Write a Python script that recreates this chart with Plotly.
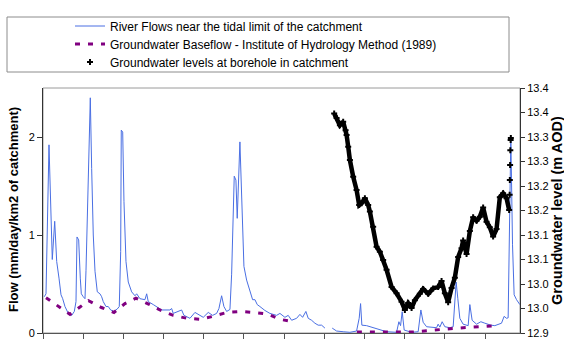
import plotly.graph_objects as go

# ---- River flow (mm/day/km2), x in tick-interval units (12 intervals on axis) ----
flow_x = [0.032, 0.075, 0.149, 0.231, 0.291, 0.341, 0.398, 0.448, 0.490, 0.547,
          0.629, 0.714, 0.779, 0.821, 0.846, 0.888, 0.928, 0.953, 1.002, 1.045,
          1.070, 1.102, 1.144, 1.177, 1.211, 1.251, 1.294, 1.351, 1.418, 1.460,
          1.500, 1.567, 1.624, 1.684, 1.766, 1.848, 1.898, 1.933, 1.948, 1.983,
          2.015, 2.065, 2.122, 2.206, 2.289, 2.331, 2.413, 2.537, 2.580, 2.619,
          2.744, 2.868, 2.953, 3.159, 3.201, 3.241, 3.450, 3.507, 3.657, 3.781,
          3.905, 3.988, 4.112, 4.221, 4.321, 4.378, 4.445, 4.502, 4.570, 4.652,
          4.694, 4.759, 4.801, 4.833, 4.900, 4.950, 5.000, 5.067, 5.132, 5.216,
          5.274, 5.331, 5.398, 5.522, 5.647, 5.813, 5.896, 6.020, 6.102, 6.187,
          6.311, 6.393, 6.460, 6.542, 6.600, 6.684, 6.766, 6.848, 6.933, 7.015,
          7.100, 7.197, 7.306, 7.470, 7.637, 7.803, 7.868, 7.903, 7.935, 8.052,
          8.216, 8.383, 8.550, 8.799, 8.856, 8.898, 8.938, 8.988, 9.172, 9.336,
          9.403, 9.460, 9.545, 9.794, 9.833, 9.876, 9.933, 10.000, 10.124, 10.207,
          10.249, 10.281, 10.323, 10.373, 10.455, 10.580, 10.622, 10.679, 10.789, 10.896,
          10.995, 11.144, 11.244, 11.410, 11.475, 11.535, 11.575, 11.617, 11.642, 11.684,
          11.724, 11.784, 11.848, 11.866]
flow_y = [0.37, 0.40, 1.92, 0.75, 1.14, 0.73, 0.56, 0.39, 0.35, 0.27,
          0.20, 0.18, 0.22, 0.32, 0.98, 0.95, 0.56, 0.40, 0.37, 0.35,
          0.64, 1.17, 1.85, 2.40, 1.68, 1.00, 0.63, 0.42, 0.40, 0.37,
          0.32, 0.27, 0.27, 0.235, 0.22, 0.245, 0.27, 0.83, 2.07, 2.05,
          1.34, 0.73, 0.52, 0.42, 0.38, 0.40, 0.35, 0.34, 0.40, 0.32,
          0.29, 0.26, 0.235, 0.235, 0.25, 0.20, 0.235, 0.18, 0.15, 0.21,
          0.18, 0.16, 0.21, 0.18, 0.20, 0.25, 0.38, 0.27, 0.22, 0.24,
          0.60, 1.60, 1.56, 1.17, 1.95, 1.22, 0.68, 0.54, 0.44, 0.34,
          0.34, 0.29, 0.27, 0.23, 0.20, 0.18, 0.20, 0.16, 0.18, 0.13,
          0.15, 0.19, 0.16, 0.22, 0.15, 0.13, 0.10, 0.08, 0.08, 0.05,
          None, 0.05, 0.02, 0.013, 0.007, 0.02, 0.15, 0.30, 0.08, 0.075,
          0.054, 0.03, 0.013, 0.007, 0.115, 0.075, 0.217, 0.03, 0.007, 0.013,
          0.235, 0.11, 0.064, 0.054, 0.09, 0.06, 0.115, 0.064, 0.054, 0.064,
          0.32, 0.52, 0.35, 0.15, 0.09, 0.075, 0.29, 0.13, 0.09, 0.115,
          0.10, 0.08, 0.075, 0.10, 0.17, 0.15, 0.155, 1.34, 2.00, 0.90,
          0.39, 0.34, 0.30, 0.29]

# ---- Groundwater baseflow (IH method) ----
base_x = [0.075, 0.381, 0.672, 0.903, 1.132, 1.455, 1.766, 2.040, 2.313, 2.600,
          2.910, 3.241, 3.582, 3.905, 4.236, 4.577, 4.925, 5.249, 5.580, 5.896,
          6.219, 7.000, 7.811, 8.177, 8.507, 8.838, 9.204, 9.545, 9.876, 10.206,
          10.547, 10.896, 11.201]
base_y = [0.36, 0.27, 0.19, 0.26, 0.33, 0.26, 0.21, 0.30, 0.355, 0.30,
          0.235, 0.18, 0.15, 0.14, 0.17, 0.21, 0.22, 0.21, 0.195, 0.14,
          0.115, None, 0.01, 0.01, 0.01, 0.01, 0.01, 0.023, 0.038, 0.046,
          0.056, 0.063, 0.072]

# ---- Groundwater level at borehole (m AOD) ----
gw_x = [7.246, 7.306, 7.388, 7.470, 7.530, 7.555, 7.595, 7.637, 7.719, 7.803,
        7.868, 7.928, 8.010, 8.092, 8.134, 8.216, 8.301, 8.383, 8.465, 8.550,
        8.674, 8.799, 8.923, 9.005, 9.087, 9.172, 9.254, 9.378, 9.460, 9.585,
        9.709, 9.833, 9.918, 10.000, 10.082, 10.167, 10.249, 10.331, 10.415, 10.455,
        10.540, 10.622, 10.704, 10.789, 10.871, 10.953, 11.037, 11.119, 11.201, 11.286,
        11.368, 11.450, 11.535, 11.600, 11.612, 11.617, 11.624, 11.629, 11.637, 11.642]
gw_level = [13.348, 13.339, 13.324, 13.331, 13.314, 13.304, 13.280, 13.253, 13.219, 13.192,
            13.161, 13.165, 13.175, 13.161, 13.148, 13.117, 13.076, 13.066, 13.049, 13.029,
            12.994, 12.981, 12.964, 12.947, 12.961, 12.951, 12.967, 12.980, 12.990, 12.980,
            12.991, 12.994, 13.006, 12.981, 12.963, 12.992, 13.013, 13.055, 13.073, 13.089,
            13.061, 13.108, 13.136, 13.129, 13.137, 13.156, 13.127, 13.116, 13.097, 13.112,
            13.177, 13.185, 13.175, 13.151, 13.182, 13.212, 13.243, 13.273, 13.294, 13.298]
GW_SOLID = 54  # points after this are the sparse, rapidly rising readings

# ---- Axis ticks ----
flow_ticks = [0, 1, 2]
level_ticks = [12.90, 12.95, 13.00, 13.05, 13.10, 13.15, 13.20, 13.25, 13.30, 13.35, 13.40]
level_ticktext = ["12.9", "13.0", "13.0", "13.1", "13.1", "13.2", "13.2", "13.3", "13.3", "13.4", "13.4"]
x_ticks = list(range(0, 12))

assert len(flow_x) == len(flow_y)
assert len(base_x) == len(base_y)
assert len(gw_x) == len(gw_level)

FONT = "Liberation Sans, Arial, sans-serif"
BLUE = "#4A6FE3"
PURPLE = "#800080"

fig = go.Figure()
fig.add_trace(go.Scatter(
    x=flow_x, y=flow_y, mode="lines", name="River Flows near the tidal limit of the catchment",
    line=dict(color=BLUE, width=1), connectgaps=False, yaxis="y", legend="legend"))
fig.add_trace(go.Scatter(
    x=base_x, y=base_y, mode="lines", name="Groundwater Baseflow - Institute of Hydrology Method (1989)",
    line=dict(color=PURPLE, width=3, dash="5px,8px"), connectgaps=False, yaxis="y",
    legend="legend2"))
fig.add_trace(go.Scatter(
    x=gw_x[:GW_SOLID], y=gw_level[:GW_SOLID], mode="lines", showlegend=False,
    line=dict(color="black", width=4.5), yaxis="y2", hoverinfo="skip"))
fig.add_trace(go.Scatter(
    x=gw_x, y=gw_level, mode="markers", name="Groundwater levels at borehole in catchment",
    marker=dict(color="black", size=5, symbol="cross"), yaxis="y2", legend="legend3"))

L, R, T, B = 43, 44, 88, 6
PW, PH = 564 - L - R, 339 - T - B


def px2paper_x(px):
    return (px - L) / PW


def py2paper_y(py):
    return (339 - B - py) / PH


def legend_row(py):
    return dict(
        x=px2paper_x(70), y=py2paper_y(py), xanchor="left", yanchor="middle",
        bgcolor="rgba(0,0,0,0)", borderwidth=0,
        font=dict(family=FONT, size=12, color="black"), itemwidth=30,
    )


fig.update_layout(
    width=564, height=339,
    margin=dict(l=L, r=R, t=T, b=B, pad=0),
    paper_bgcolor="white", plot_bgcolor="white",
    font=dict(family=FONT, size=11, color="black"),
    showlegend=True,
    legend=legend_row(26),
    legend2=legend_row(44),
    legend3=legend_row(62),
    xaxis=dict(
        range=[0, 11.87], tickvals=x_ticks, showticklabels=False,
        ticks="outside", ticklen=5, tickcolor="#555", tickwidth=1, automargin=False,
        showline=True, linecolor="#555", linewidth=1, showgrid=False, zeroline=False,
    ),
    yaxis=dict(
        range=[0, 2.5], tickvals=flow_ticks, ticks="outside", ticklen=5,
        tickcolor="#333", showline=True, linecolor="#333", linewidth=1, automargin=False,
        showgrid=False, zeroline=False, tickfont=dict(size=11),
    ),
    yaxis2=dict(
        range=[12.9, 13.4], tickvals=level_ticks, ticktext=level_ticktext,
        overlaying="y", side="right", anchor="x", automargin=False,
        ticks="outside", ticklen=4, tickcolor="#333",
        showline=True, linecolor="#333", linewidth=1,
        showgrid=False, zeroline=False, tickfont=dict(size=11),
    ),
    yaxis3=dict(
        range=[12.9, 13.4], tickvals=level_ticks, overlaying="y", side="right",
        anchor="x", ticks="inside", ticklen=4, tickcolor="#333", automargin=False,
        showticklabels=False, showline=False, showgrid=False, zeroline=False,
    ),
    shapes=[
        dict(type="rect", xref="paper", yref="paper", x0=0, x1=1, y0=0, y1=1,
             line=dict(color="#9a9a9a", width=1), layer="below"),
        dict(type="rect", xref="paper", yref="paper",
             x0=px2paper_x(7), x1=px2paper_x(509), y0=py2paper_y(72), y1=py2paper_y(17),
             line=dict(color="#8c8c8c", width=1), fillcolor="rgba(0,0,0,0)"),
    ],
    annotations=[
        dict(text="<b>Flow (mm/day/km2 of catchment)</b>", textangle=-90,
             xref="paper", yref="paper", x=px2paper_x(13), y=py2paper_y(210),
             xanchor="center", yanchor="middle", showarrow=False,
             font=dict(family=FONT, size=13, color="black")),
        dict(text="<b>Groundwater level (m AOD)</b>", textangle=-90,
             xref="paper", yref="paper", x=px2paper_x(557), y=py2paper_y(211),
             xanchor="center", yanchor="middle", showarrow=False,
             font=dict(family=FONT, size=14.5, color="black")),
    ],
)

fig.write_html("out.html")
